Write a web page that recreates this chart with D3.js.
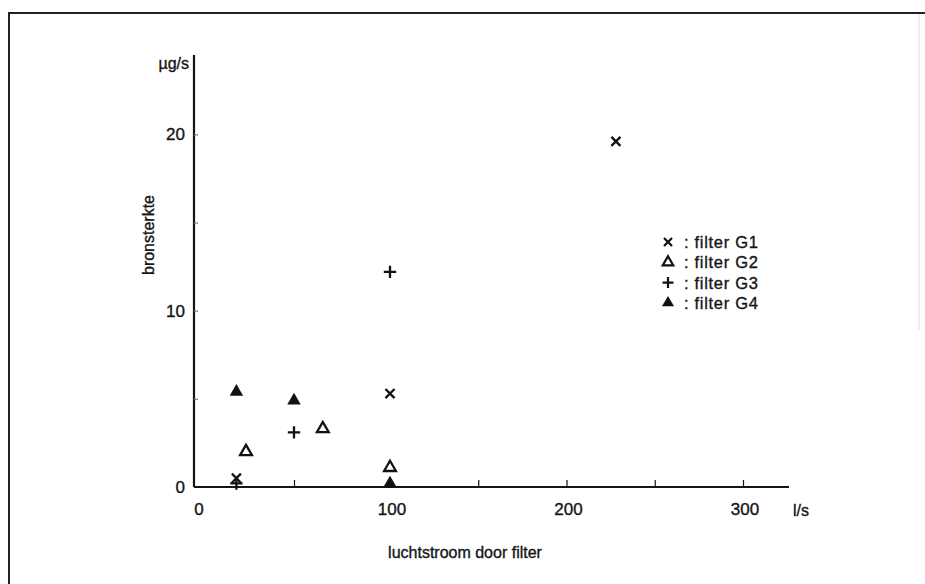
<!DOCTYPE html>
<html>
<head>
<meta charset="utf-8">
<script src="https://cdn.jsdelivr.net/npm/d3@7"></script>
<style>
  body { margin: 0; background: #fff; }
  svg text { font-family: "Liberation Sans", Arial, sans-serif; fill: #151515; stroke: #151515; stroke-width: 0.35px; }
</style>
</head>
<body>
<div id="chart"></div>
<script>
"use strict";
const seriesNames = ["filter G1", "filter G2", "filter G3", "filter G4"];
const g1X = [20, 100, 228], g1Y = [0.5, 5.3, 19.6];
const g2X = [25, 65, 100], g2Y = [2.0, 3.3, 1.1];
const g3X = [20, 50, 100], g3Y = [0.2, 3.1, 12.2];
const g4X = [20, 50, 100], g4Y = [5.4, 4.9, 0.2];

const xTicks = [50, 100, 150, 200, 250, 300];
const xLabels = [0, 100, 200, 300];
const yTicks = [5, 10, 15, 20];
const yLabels = [0, 10, 20];

const width = 925, height = 584;

var svg = d3.select("#chart")
    .append("svg")
    .attr("width", width)
    .attr("height", height);

// frame of the scanned page
svg.append("path")
    .attr("d", "M9,584V13H925")
    .attr("fill", "none")
    .attr("stroke", "#222")
    .attr("stroke-width", 2);
svg.append("line")
    .attr("x1", 919).attr("x2", 919).attr("y1", 14).attr("y2", 330)
    .attr("stroke", "#ddd").attr("stroke-width", 1);

// the original x axis is slightly stretched between 0 and 100
var xScale = d3.scaleLinear()
    .domain([0, 100, 300, 326])
    .range([198, 390, 743, 789]);
var yScale = d3.scaleLinear()
    .domain([0, 24.5])
    .range([487, 55]);

var xAxis = svg.append("g")
    .attr("class", "axis axis--x")
    .attr("transform", "translate(0,487)")
    .call(d3.axisBottom(xScale).tickValues(xTicks).tickSize(-7).tickSizeOuter(0).tickFormat(""));
xAxis.select(".domain").attr("d", `M${xScale(0) - 4},0H${xScale(326)}`);

var yAxis = svg.append("g")
    .attr("class", "axis axis--y")
    .attr("transform", "translate(194,0)")
    .call(d3.axisLeft(yScale).tickValues(yTicks).tickSize(-4).tickSizeOuter(0).tickFormat(""));
yAxis.select(".domain").attr("d", `M0,${yScale(0)}V${yScale(24.5)}`);

svg.selectAll(".axis path, .axis line")
    .attr("stroke", "#151515");
svg.selectAll(".axis .domain").attr("stroke-width", 2.2);
svg.selectAll(".axis .tick line").attr("stroke-width", 1.2);
yAxis.selectAll(".tick line").attr("stroke", "#777");

svg.selectAll(".xlabel")
    .data(xLabels)
    .enter().append("text")
    .attr("class", "xlabel")
    .attr("x", d => d === 0 ? xScale(d) + 1 : xScale(d) + 2)
    .attr("y", 515)
    .attr("text-anchor", "middle")
    .style("font-size", "17px")
    .text(d => d);

svg.selectAll(".ylabel")
    .data(yLabels)
    .enter().append("text")
    .attr("class", "ylabel")
    .attr("x", 185)
    .attr("y", d => yScale(d) + 6)
    .attr("text-anchor", "end")
    .style("font-size", "17px")
    .text(d => d);

svg.append("text")
    .attr("x", 189).attr("y", 69)
    .attr("text-anchor", "end")
    .style("font-size", "16px")
    .text("\u00b5g/s");

svg.append("text")
    .attr("x", 793).attr("y", 516)
    .style("font-size", "16px")
    .text("l/s");

svg.append("text")
    .attr("x", 465).attr("y", 558)
    .attr("text-anchor", "middle")
    .style("font-size", "16px")
    .text("luchtstroom door filter");

svg.append("text")
    .attr("transform", "translate(154,235) rotate(-90)")
    .attr("text-anchor", "middle")
    .style("font-size", "16px")
    .text("bronsterkte");

// markers
const markers = [
    { type: d3.symbolTimes, size: 55, filled: false },
    { type: d3.symbolTriangle2, size: 100, filled: false },
    { type: d3.symbolPlus, size: 52, filled: false },
    { type: d3.symbolTriangle, size: 78, filled: true }
];
const seriesX = [g1X, g2X, g3X, g4X];
const seriesY = [g1Y, g2Y, g3Y, g4Y];

seriesNames.forEach(function (name, i) {
    const pts = seriesX[i].map((x, j) => ({ x: x, y: seriesY[i][j] }));
    const m = markers[i];
    svg.append("g")
        .attr("class", "series")
        .selectAll("path")
        .data(pts)
        .enter().append("path")
        .attr("transform", d => `translate(${xScale(d.x)},${yScale(d.y)})`)
        .attr("d", d3.symbol().type(m.type).size(m.size))
        .attr("fill", m.filled ? "#111" : "none")
        .attr("stroke", m.filled ? "none" : "#111")
        .attr("stroke-width", 2.3);
});

// legend
var legend = svg.append("g")
    .attr("class", "legend")
    .attr("transform", "translate(668,242)");
var items = legend.selectAll("g")
    .data(seriesNames)
    .enter().append("g")
    .attr("transform", (d, i) => `translate(0,${i * 20.3})`);
items.append("path")
    .attr("d", (d, i) => d3.symbol().type(markers[i].type).size(markers[i].size * 0.8)())
    .attr("fill", (d, i) => markers[i].filled ? "#111" : "none")
    .attr("stroke", (d, i) => markers[i].filled ? "none" : "#111")
    .attr("stroke-width", 2.2);
items.append("text")
    .attr("x", 16)
    .attr("y", 6)
    .style("font-size", "16.5px")
    .style("letter-spacing", "0.7px")
    .text(d => ": " + d)
    .attr("xml:space", "preserve");
</script>
</body>
</html>
